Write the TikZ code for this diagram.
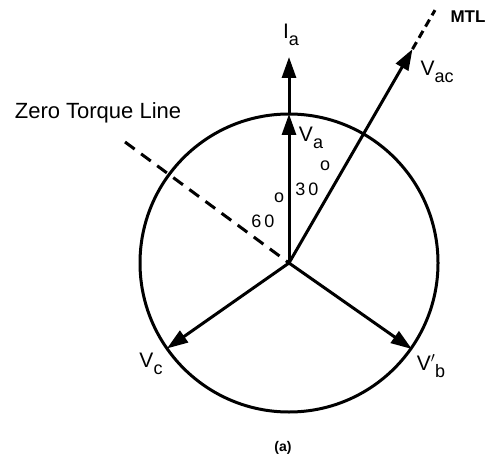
\documentclass[tikz,border=0pt]{standalone}
\usepackage{fontspec}
\setmainfont{Liberation Sans}
\usetikzlibrary{arrows.meta, calc}
\tikzset{
  fasor/.style={line width=3pt, -{Triangle[length=21pt, width=14pt]}},
  rueda/.style={draw, circle, line width=3pt, minimum size=298pt, inner sep=0pt, outer sep=0pt},
  eje/.style={line width=3pt, dash pattern=on 12pt off 8pt},
  ejecorto/.style={line width=3pt, dash pattern=on 8pt off 5pt},
  marca/.style={font=\fontsize{21}{23}\selectfont, inner sep=0pt},
  angulo/.style={font=\fontsize{18}{20}\selectfont, inner sep=0pt},
}
\newcommand{\fasorlbl}[2]{#1\raisebox{-0.6ex}{\fontsize{18}{19}\selectfont #2}}

\begin{document}
\begin{tikzpicture}[x=1pt, y=1pt]
  \useasboundingbox (0,0) rectangle (486,474);
  \coordinate (o) at (289,211);
  \node[rueda] (circ) at (o) {};
  % fasores
  \coordinate (ia) at (289,417);
  \coordinate (vac) at ($(o)+(60:247)$);
  \coordinate (mtl) at ($(o)+(60:292)$);
  \coordinate (vc) at ($(o)+(215:149)$);
  \coordinate (vb) at ($(o)+(-35:150)$);
  \coordinate (zt) at (125,332);
  \draw[fasor] (o) -- (circ.north);
  \draw[fasor] (circ.north) -- (ia);
  \draw[fasor] (o) -- (vac);
  \draw[fasor] (o) -- (vc);
  \draw[fasor] (o) -- (vb);
  \draw[ejecorto] (vac) -- (mtl);
  \draw[eje] (zt) -- (o);
  % textos
  \node[marca] (lia) at (291,439) {\fasorlbl{I}{a}};
  \node[marca] (lva) at (311,336) {\fasorlbl{V}{a}};
  \node[marca] (lvac) at (437,402) {\fasorlbl{V}{ac}};
  \node[marca, font=\fontsize{17}{19}\selectfont\bfseries] (lmtl) at (468,457) {MTL};
  \node[marca, font=\fontsize{22}{24}\selectfont] (lzt) at (98,361) {Zero Torque Line};
  \node[marca] (lvc) at (151,110) {\fasorlbl{V}{c}};
  \node[marca] (lvb) at (431,108) {\fasorlbl{V$'$}{b}};
  \node[angulo] (l30) at (307,285) {3\hspace{3pt}0};
  \node[angulo] (g30) at (325,308) {o};
  \node[angulo] (l60) at (263,253) {6\hspace{3pt}0};
  \node[angulo] (g60) at (279,276) {o};
  \node[marca, font=\fontsize{14}{16}\selectfont\bfseries] (cap) at (283,26) {(a)};
\end{tikzpicture}
\end{document}
